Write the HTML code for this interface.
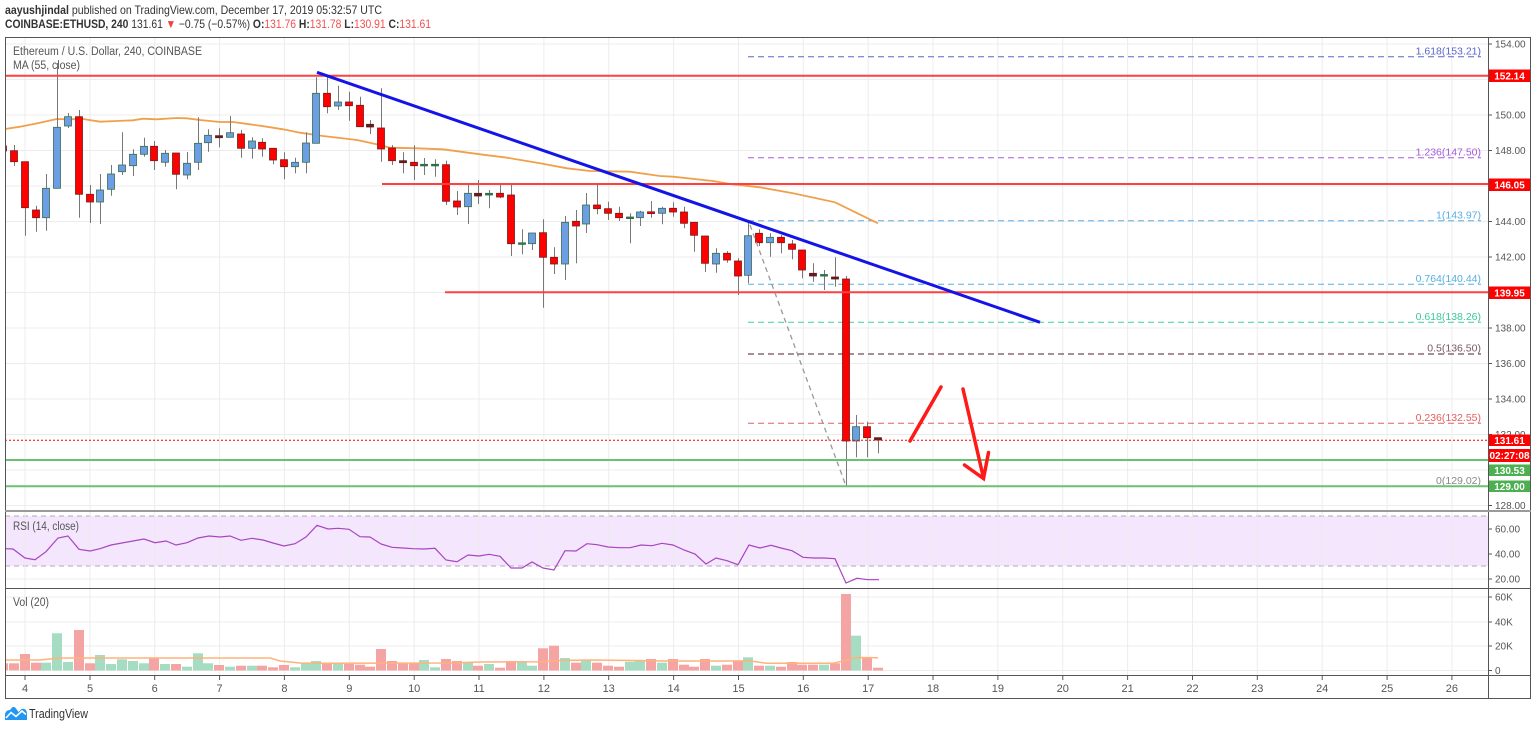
<!DOCTYPE html>
<html><head><meta charset="utf-8"><style>
html,body{margin:0;padding:0;background:#fff;}
svg{display:block;font-family:"Liberation Sans",sans-serif;}
.gr{stroke:#ececec;stroke-width:1;}
.ax{fill:#555;font-size:10px;}
.b{fill:#6b9ee4;stroke:#3d6b4d;stroke-width:.8}
.r{fill:#ff0000;stroke:#7b1818;stroke-width:.8}
.d{fill:#6b1b1b;stroke:#5a1a1a;stroke-width:.8}
.g{fill:#2d7a50;stroke:#2d6a45;stroke-width:.8}
.vr{fill:#f5a4a4}
.vg{fill:#a6dcc1}
</style></head><body>
<svg width="1536" height="729" viewBox="0 0 1536 729" xmlns="http://www.w3.org/2000/svg">
<defs>
<clipPath id="cm"><rect x="5" y="37" width="1483" height="474"/></clipPath>
<clipPath id="cr"><rect x="5" y="512" width="1483" height="76"/></clipPath>
<clipPath id="cv"><rect x="5" y="589" width="1483" height="86"/></clipPath>
</defs>
<rect width="1536" height="729" fill="#fff"/>

<!-- header -->
<text x="5" y="14" font-size="12" fill="#333" textLength="377" lengthAdjust="spacingAndGlyphs"><tspan font-weight="bold">aayushjindal</tspan> published on TradingView.com, December 17, 2019 05:32:57 UTC</text>
<text x="5" y="28" font-size="12" fill="#333" textLength="426" lengthAdjust="spacingAndGlyphs"><tspan font-weight="bold">COINBASE:ETHUSD, 240</tspan> 131.61 <tspan fill="#f04040">▼</tspan> −0.75 (−0.57%) <tspan font-weight="bold">O:</tspan><tspan fill="#f05050">131.76</tspan> <tspan font-weight="bold">H:</tspan><tspan fill="#f05050">131.78</tspan> <tspan font-weight="bold">L:</tspan><tspan fill="#f05050">130.91</tspan> <tspan font-weight="bold">C:</tspan><tspan fill="#f05050">131.61</tspan></text>

<!-- grid main -->
<g class="gr">
<line x1="5" y1="44" x2="1488" y2="44"/><line x1="5" y1="79.5" x2="1488" y2="79.5"/><line x1="5" y1="115" x2="1488" y2="115"/><line x1="5" y1="150.5" x2="1488" y2="150.5"/><line x1="5" y1="186" x2="1488" y2="186"/><line x1="5" y1="221.5" x2="1488" y2="221.5"/><line x1="5" y1="257" x2="1488" y2="257"/><line x1="5" y1="292.5" x2="1488" y2="292.5"/><line x1="5" y1="328" x2="1488" y2="328"/><line x1="5" y1="363.5" x2="1488" y2="363.5"/><line x1="5" y1="399" x2="1488" y2="399"/><line x1="5" y1="434.5" x2="1488" y2="434.5"/><line x1="5" y1="470" x2="1488" y2="470"/><line x1="5" y1="505.5" x2="1488" y2="505.5"/>
<line x1="5" y1="529" x2="1488" y2="529"/><line x1="5" y1="554" x2="1488" y2="554"/><line x1="5" y1="579" x2="1488" y2="579"/>
<line x1="5" y1="597" x2="1488" y2="597"/><line x1="5" y1="622" x2="1488" y2="622"/><line x1="5" y1="646" x2="1488" y2="646"/><line x1="5" y1="670.5" x2="1488" y2="670.5"/>
</g>
<!-- RSI band -->
<rect x="5" y="516" width="1483" height="50" fill="#f3e6fd"/>
<line x1="5" y1="516" x2="1488" y2="516" stroke="#b4a6bc" stroke-dasharray="5,4"/>
<line x1="5" y1="566" x2="1488" y2="566" stroke="#b4a6bc" stroke-dasharray="5,4"/>
<g class="gr">
<line x1="25" y1="37" x2="25" y2="676"/><line x1="90" y1="37" x2="90" y2="676"/><line x1="154.7" y1="37" x2="154.7" y2="676"/><line x1="219.6" y1="37" x2="219.6" y2="676"/><line x1="284.4" y1="37" x2="284.4" y2="676"/><line x1="349.3" y1="37" x2="349.3" y2="676"/><line x1="414.2" y1="37" x2="414.2" y2="676"/><line x1="479" y1="37" x2="479" y2="676"/><line x1="543.9" y1="37" x2="543.9" y2="676"/><line x1="608.7" y1="37" x2="608.7" y2="676"/><line x1="673.6" y1="37" x2="673.6" y2="676"/><line x1="738.5" y1="37" x2="738.5" y2="676"/><line x1="803.3" y1="37" x2="803.3" y2="676"/><line x1="868.2" y1="37" x2="868.2" y2="676"/><line x1="933" y1="37" x2="933" y2="676"/><line x1="997.9" y1="37" x2="997.9" y2="676"/><line x1="1062.8" y1="37" x2="1062.8" y2="676"/><line x1="1127.6" y1="37" x2="1127.6" y2="676"/><line x1="1192.5" y1="37" x2="1192.5" y2="676"/><line x1="1257.3" y1="37" x2="1257.3" y2="676"/><line x1="1322.2" y1="37" x2="1322.2" y2="676"/><line x1="1387.1" y1="37" x2="1387.1" y2="676"/><line x1="1451.9" y1="37" x2="1451.9" y2="676"/>
</g>

<g clip-path="url(#cm)">
<!-- fib lines -->
<g stroke-dasharray="6,4" stroke-width="1">
<line x1="748" y1="56.7" x2="1481" y2="56.7" stroke="#5a66cc"/>
<line x1="748" y1="157.7" x2="1481" y2="157.7" stroke="#a55cdc"/>
<line x1="748" y1="220.7" x2="1481" y2="220.7" stroke="#5aaee6"/>
<line x1="748" y1="284.3" x2="1481" y2="284.3" stroke="#55b0e0"/>
<line x1="748" y1="322.3" x2="1481" y2="322.3" stroke="#3dd0a0"/>
<line x1="748" y1="354" x2="1481" y2="354" stroke="#8a6878" stroke-width="1.5"/>
<line x1="748" y1="423.3" x2="1481" y2="423.3" stroke="#e06060"/>
<line x1="748" y1="486" x2="1481" y2="486" stroke="#888"/>
</g>
<g font-size="10.5" text-anchor="end">
<text x="1481" y="54.5" fill="#5a66cc">1.618(153.21)</text>
<text x="1481" y="155.5" fill="#a55cdc">1.236(147.50)</text>
<text x="1481" y="218.5" fill="#5aaee6">1(143.97)</text>
<text x="1481" y="282" fill="#55b0e0">0.764(140.44)</text>
<text x="1481" y="320" fill="#3dc89a">0.618(138.26)</text>
<text x="1481" y="351.5" fill="#7a5868">0.5(136.50)</text>
<text x="1481" y="421" fill="#e06060">0.236(132.55)</text>
<text x="1481" y="484" fill="#888">0(129.02)</text>
</g>
<!-- MA 55 -->
<polyline fill="none" stroke="#f0a04b" stroke-width="1.8" points="5,129 20,126.7 40,122.7 56.7,119 66.7,119.3 83,119 100,121.7 116.7,121 133,120.3 143,118.7 156.7,119.3 176.7,118 186.7,118.3 200,120 220,122 233,122 250,124.3 266.7,126.7 283,129.3 300,132.7 323,136 357,140 380,145 390,147.7 417,148.3 443,149.3 480,154.3 507,157.7 540,163.3 567,168.3 590,171 630,171.7 660,176 673,176.7 713,181 730,184 760,187.3 793,193.3 835,202.3 878,223.3"/>
<!-- wicks -->
<path fill="none" stroke="#777" stroke-width="1" d="M3.5 145V152M14.5 145V166M25.5 161.7V235.7M36.5 205.7V231.7M46.5 174V230.7M57.5 63V188.3M68.5 113V128M79.5 110V217.7M90.5 185V223M100.5 174V224M111.5 165V195.7M122.5 132.3V175M133.5 149.3V176M144.5 137.7V156.7M154.5 141V170M165.5 150V166.7M176.5 153V189.3M187.5 152V179.3M198.5 117.3V170M208.5 129.3V151.7M219.5 128.3V147.3M230.5 116V137.3M241.5 130V157.7M252.5 137.3V158.7M262.5 138.3V156.7M273.5 148.3V164.3M284.5 152.3V179.3M295.5 157.7V173.3M306.5 132.3V173.3M316.5 77.3V143.3M327.5 75.7V113.3M338.5 85.7V110M349.5 91.7V120.7M360.5 96.7V126.7M370.5 120V134M381.5 88.3V161.7M392.5 145V165M403.5 152.3V173.3M414.5 145.3V180M424.5 158V175M435.5 159.3V176.7M446.5 160.7V205M457.5 191V215M468.5 185V224M478.5 180V204M489.5 190V208.3M500.5 185V198.3M511.5 185V256M522.5 229.3V254.3M532.5 233V250M543.5 219.3V307.7M554.5 247.3V274M565.5 216V280M576.5 210V263.3M586.5 193V233M597.5 183.3V214.3M608.5 201.7V220M619.5 206.7V221M630.5 213.3V243.3M640.5 210.7V226M651.5 201V217.7M662.5 206.7V224.3M673.5 202.3V216.7M684.5 206.7V228.3M694.5 222.3V251.7M705.5 236V272M716.5 248.3V272.7M727.5 251V262.7M738.5 258.3V295M748.5 221.7V283.3M759.5 229.3V246M770.5 233.3V256.7M781.5 235V253.3M792.5 240V259.3M802.5 250V278.3M813.5 263.3V281.7M824.5 270V290M835.5 257.3V286.7M846.5 276V486M856.5 415V457.3M867.5 421.7V457.3M878.5 437.7V453.3"/>
<!-- bodies -->
<rect class="r" x="-0.5" y="146" width="7" height="5"/>
<rect class="r" x="10.5" y="150.7" width="7" height="11"/>
<rect class="r" x="21.5" y="161.7" width="7" height="46"/>
<rect class="r" x="32.5" y="210" width="7" height="7.7"/>
<rect class="b" x="42.5" y="188.3" width="7" height="29.4"/>
<rect class="b" x="53.5" y="127.3" width="7" height="61"/>
<rect class="b" x="64.5" y="116.7" width="7" height="9.3"/>
<rect class="r" x="75.5" y="116.7" width="7" height="77.6"/>
<rect class="r" x="86.5" y="194.3" width="7" height="7.7"/>
<rect class="b" x="96.5" y="190" width="7" height="12"/>
<rect class="b" x="107.5" y="174" width="7" height="15.3"/>
<rect class="b" x="118.5" y="165" width="7" height="6.7"/>
<rect class="b" x="129.5" y="154.3" width="7" height="11.4"/>
<rect class="b" x="140.5" y="146.3" width="7" height="8"/>
<rect class="r" x="150.5" y="146.3" width="7" height="14.4"/>
<rect class="b" x="161.5" y="153.3" width="7" height="9"/>
<rect class="r" x="172.5" y="153" width="7" height="21.3"/>
<rect class="b" x="183.5" y="163.3" width="7" height="11.7"/>
<rect class="b" x="194.5" y="143.3" width="7" height="19"/>
<rect class="b" x="204.5" y="135.3" width="7" height="7.4"/>
<rect class="d" x="215.5" y="135.7" width="7" height="2"/>
<rect class="b" x="226.5" y="132.7" width="7" height="4.6"/>
<rect class="r" x="237.5" y="134" width="7" height="14.3"/>
<rect class="b" x="248.5" y="141" width="7" height="7.3"/>
<rect class="r" x="258.5" y="142.3" width="7" height="6.7"/>
<rect class="r" x="269.5" y="148.3" width="7" height="11.7"/>
<rect class="r" x="280.5" y="159.7" width="7" height="7"/>
<rect class="b" x="291.5" y="162.3" width="7" height="4.4"/>
<rect class="b" x="302.5" y="143" width="7" height="19.3"/>
<rect class="b" x="312.5" y="93.3" width="7" height="50"/>
<rect class="r" x="323.5" y="93.3" width="7" height="13.4"/>
<rect class="b" x="334.5" y="102" width="7" height="4"/>
<rect class="r" x="345.5" y="102" width="7" height="3.7"/>
<rect class="r" x="356.5" y="105.3" width="7" height="21.4"/>
<rect class="d" x="366.5" y="124.3" width="7" height="2.7"/>
<rect class="r" x="377.5" y="128" width="7" height="21"/>
<rect class="r" x="388.5" y="148" width="7" height="12.7"/>
<rect class="d" x="399.5" y="160.7" width="7" height="2"/>
<rect class="r" x="410.5" y="162.3" width="7" height="3.4"/>
<rect class="g" x="420.5" y="164.3" width="7" height="1.6"/>
<rect class="g" x="431.5" y="164.3" width="7" height="1.6"/>
<rect class="r" x="442.5" y="164.7" width="7" height="36.6"/>
<rect class="r" x="453.5" y="201" width="7" height="6"/>
<rect class="b" x="464.5" y="193.3" width="7" height="13.4"/>
<rect class="d" x="474.5" y="193.3" width="7" height="2.7"/>
<rect class="g" x="485.5" y="193.3" width="7" height="1.7"/>
<rect class="r" x="496.5" y="193.3" width="7" height="3.7"/>
<rect class="r" x="507.5" y="195" width="7" height="48.7"/>
<rect class="g" x="518.5" y="242.8" width="7" height="1.6"/>
<rect class="b" x="528.5" y="233" width="7" height="10.7"/>
<rect class="r" x="539.5" y="232.7" width="7" height="24.6"/>
<rect class="r" x="550.5" y="257.3" width="7" height="6.7"/>
<rect class="b" x="561.5" y="222.3" width="7" height="41.7"/>
<rect class="r" x="572.5" y="221.3" width="7" height="4.7"/>
<rect class="b" x="582.5" y="205" width="7" height="19"/>
<rect class="r" x="593.5" y="205" width="7" height="3.7"/>
<rect class="r" x="604.5" y="208.7" width="7" height="4.6"/>
<rect class="r" x="615.5" y="213.3" width="7" height="4.4"/>
<rect class="g" x="626.5" y="217" width="7" height="1.6"/>
<rect class="b" x="636.5" y="212" width="7" height="5.7"/>
<rect class="r" x="647.5" y="211.8" width="7" height="1.8"/>
<rect class="b" x="658.5" y="208.3" width="7" height="5"/>
<rect class="r" x="669.5" y="208.3" width="7" height="3.7"/>
<rect class="r" x="680.5" y="212" width="7" height="11.3"/>
<rect class="r" x="690.5" y="222.3" width="7" height="13"/>
<rect class="r" x="701.5" y="236" width="7" height="27.3"/>
<rect class="b" x="712.5" y="253.3" width="7" height="10.7"/>
<rect class="r" x="723.5" y="253.3" width="7" height="6.7"/>
<rect class="r" x="734.5" y="261" width="7" height="15"/>
<rect class="b" x="744.5" y="235.7" width="7" height="39.6"/>
<rect class="r" x="755.5" y="233.3" width="7" height="9.4"/>
<rect class="b" x="766.5" y="237.3" width="7" height="5.4"/>
<rect class="r" x="777.5" y="237.3" width="7" height="5.4"/>
<rect class="r" x="788.5" y="244" width="7" height="5.3"/>
<rect class="r" x="798.5" y="250" width="7" height="20"/>
<rect class="d" x="809.5" y="273.3" width="7" height="2.7"/>
<rect class="g" x="820.5" y="274.5" width="7" height="1.6"/>
<rect class="d" x="831.5" y="277" width="7" height="2"/>
<rect class="r" x="842.5" y="279" width="7" height="162"/>
<rect class="b" x="852.5" y="426.7" width="7" height="14.3"/>
<rect class="r" x="863.5" y="426.7" width="7" height="11"/>
<rect class="d" x="874.5" y="437.7" width="7" height="2.3"/>

<!-- horizontal support/resistance -->
<line x1="5" y1="75.7" x2="1488" y2="75.7" stroke="#ff4040" stroke-width="2"/>
<line x1="382" y1="184" x2="1488" y2="184" stroke="#ff4040" stroke-width="2"/>
<line x1="445" y1="292.3" x2="1488" y2="292.3" stroke="#ff4040" stroke-width="2"/>
<line x1="5" y1="460" x2="1488" y2="460" stroke="#6cc070" stroke-width="2"/>
<line x1="5" y1="486.3" x2="1488" y2="486.3" stroke="#6cc070" stroke-width="2"/>
<line x1="5" y1="440.3" x2="1488" y2="440.3" stroke="#ff0000" stroke-width="1" stroke-dasharray="2,2"/>
<!-- trendline -->
<line x1="317" y1="72.3" x2="1040" y2="322.3" stroke="#1414e6" stroke-width="3"/>
<!-- grey dashed diagonal -->
<line x1="750" y1="225" x2="846" y2="486" stroke="#999" stroke-width="1.3" stroke-dasharray="5,4"/>
<!-- arrows -->
<g stroke="#ff1a1a" stroke-width="3.5" stroke-linecap="round" fill="none">
<line x1="910" y1="441" x2="941" y2="387"/>
<line x1="963" y1="389" x2="983.5" y2="478"/>
<polyline points="964.5,465 983.5,478.5 988.5,452.5"/>
</g>
</g>

<!-- RSI -->
<g clip-path="url(#cr)">
<polyline fill="none" stroke="#a845c0" stroke-width="1.2" points="5,548.7 13,549 25,558 35,559.7 46,551.7 58,538 68,536 79,549.3 90,551 100,548.7 111,545 122,543 133,541 144,539 155,542.7 166,541 176,545 187,542.7 198,538 209,536 220,537 230,536 241,540.3 252,538.3 263,540 273,543 284,546 295,543.7 306,537 317,525.3 328,529 338,528.3 349,529.3 360,536.7 370,537 381,544 392,547.3 403,548 413,548.7 424,549 435,548.3 446,560 457,561.7 468,555 479,556 489,554.3 500,556.3 511,568 522,568 532,562 543,568 554,570 565,550.7 576,551 587,543.7 597,544.7 608,547 619,547.7 630,547.7 641,545 652,545.7 662,543.3 673,545 684,550 695,554 706,564 716,558 727,560.7 738,564.7 749,545 760,548 771,545.3 781,548 792,550.7 803,557.3 814,558 824,558 835,558.7 846,583 857,578.3 868,579.7 879,579.7"/>
</g>

<!-- Volume -->
<g clip-path="url(#cv)">
<rect class="vr" x="-2" y="663.3" width="10" height="7"/>
<rect class="vr" x="9" y="663.3" width="10" height="7"/>
<rect class="vr" x="20" y="654" width="10" height="16.5"/>
<rect class="vr" x="31" y="662.7" width="10" height="7.8"/>
<rect class="vg" x="41" y="662.7" width="10" height="7.8"/>
<rect class="vg" x="52" y="633.3" width="10" height="37.2"/>
<rect class="vg" x="63" y="662" width="10" height="8.5"/>
<rect class="vr" x="74" y="630" width="10" height="40.5"/>
<rect class="vr" x="85" y="663.3" width="10" height="7.2"/>
<rect class="vg" x="95" y="655" width="10" height="15.5"/>
<rect class="vg" x="106" y="664" width="10" height="6.5"/>
<rect class="vg" x="117" y="659.3" width="10" height="11.2"/>
<rect class="vg" x="128" y="661" width="10" height="9.5"/>
<rect class="vg" x="139" y="663.3" width="10" height="7.2"/>
<rect class="vr" x="149" y="657.7" width="10" height="12.8"/>
<rect class="vg" x="160" y="664" width="10" height="6.5"/>
<rect class="vr" x="171" y="664" width="10" height="6.5"/>
<rect class="vg" x="182" y="666.7" width="10" height="3.8"/>
<rect class="vg" x="193" y="653.3" width="10" height="17.2"/>
<rect class="vg" x="203" y="663.3" width="10" height="7.2"/>
<rect class="vr" x="214" y="665" width="10" height="5.5"/>
<rect class="vg" x="225" y="666.7" width="10" height="3.8"/>
<rect class="vr" x="236" y="665.7" width="10" height="4.8"/>
<rect class="vg" x="247" y="665.7" width="10" height="4.8"/>
<rect class="vr" x="257" y="665.7" width="10" height="4.8"/>
<rect class="vr" x="268" y="667.3" width="10" height="3.2"/>
<rect class="vr" x="279" y="665" width="10" height="5.5"/>
<rect class="vg" x="290" y="667.3" width="10" height="3.2"/>
<rect class="vg" x="301" y="662.7" width="10" height="7.8"/>
<rect class="vg" x="311" y="661" width="10" height="9.5"/>
<rect class="vr" x="322" y="662.7" width="10" height="7.8"/>
<rect class="vg" x="333" y="662.7" width="10" height="7.8"/>
<rect class="vr" x="344" y="664" width="10" height="6.5"/>
<rect class="vr" x="355" y="664.7" width="10" height="5.8"/>
<rect class="vr" x="365" y="666.7" width="10" height="3.8"/>
<rect class="vr" x="376" y="649" width="10" height="21.5"/>
<rect class="vr" x="387" y="661" width="10" height="9.5"/>
<rect class="vr" x="398" y="662.7" width="10" height="7.8"/>
<rect class="vr" x="409" y="662.7" width="10" height="7.8"/>
<rect class="vg" x="419" y="660" width="10" height="10.5"/>
<rect class="vg" x="430" y="667.3" width="10" height="3.2"/>
<rect class="vr" x="441" y="659" width="10" height="11.5"/>
<rect class="vr" x="452" y="661" width="10" height="9.5"/>
<rect class="vg" x="463" y="662.3" width="10" height="8.2"/>
<rect class="vr" x="473" y="665.7" width="10" height="4.8"/>
<rect class="vg" x="484" y="664" width="10" height="6.5"/>
<rect class="vr" x="495" y="667.7" width="10" height="2.8"/>
<rect class="vr" x="506" y="661" width="10" height="9.5"/>
<rect class="vg" x="517" y="661" width="10" height="9.5"/>
<rect class="vg" x="527" y="665.7" width="10" height="4.8"/>
<rect class="vr" x="538" y="648.3" width="10" height="22.2"/>
<rect class="vr" x="549" y="645.7" width="10" height="24.8"/>
<rect class="vg" x="560" y="658" width="10" height="12.5"/>
<rect class="vr" x="571" y="662.7" width="10" height="7.8"/>
<rect class="vg" x="581" y="660.7" width="10" height="9.8"/>
<rect class="vr" x="592" y="662.7" width="10" height="7.8"/>
<rect class="vr" x="603" y="665.7" width="10" height="4.8"/>
<rect class="vr" x="614" y="666.7" width="10" height="3.8"/>
<rect class="vg" x="625" y="661.7" width="10" height="8.8"/>
<rect class="vg" x="635" y="660" width="10" height="10.5"/>
<rect class="vr" x="646" y="659" width="10" height="11.5"/>
<rect class="vg" x="657" y="662.7" width="10" height="7.8"/>
<rect class="vr" x="668" y="659" width="10" height="11.5"/>
<rect class="vr" x="679" y="664.7" width="10" height="5.8"/>
<rect class="vr" x="689" y="666.7" width="10" height="3.8"/>
<rect class="vr" x="700" y="659" width="10" height="11.5"/>
<rect class="vg" x="711" y="665.7" width="10" height="4.8"/>
<rect class="vr" x="722" y="664.7" width="10" height="5.8"/>
<rect class="vr" x="733" y="660.3" width="10" height="10.2"/>
<rect class="vg" x="743" y="657.3" width="10" height="13.2"/>
<rect class="vr" x="754" y="665.7" width="10" height="4.8"/>
<rect class="vg" x="765" y="665.7" width="10" height="4.8"/>
<rect class="vr" x="776" y="666.7" width="10" height="3.8"/>
<rect class="vr" x="787" y="662" width="10" height="8.5"/>
<rect class="vr" x="797" y="664.7" width="10" height="5.8"/>
<rect class="vr" x="808" y="664.7" width="10" height="5.8"/>
<rect class="vg" x="819" y="664.7" width="10" height="5.8"/>
<rect class="vr" x="830" y="663.3" width="10" height="7.2"/>
<rect class="vr" x="841" y="594" width="10" height="76.5"/>
<rect class="vg" x="851" y="635.7" width="10" height="34.8"/>
<rect class="vr" x="862" y="658" width="10" height="12.5"/>
<rect class="vr" x="873" y="667.7" width="10" height="2.8"/>
<polyline fill="none" stroke="#ffb27a" stroke-width="1.5" points="5,660 40,660 60,658 270,658 280,661 300,663 320,663.3 450,663 480,662 540,661.7 560,660.5 590,660 640,660.5 663,661 750,661 767,663.3 833,663.3 847,660 857,657.5 878,657.7"/>
</g>

<!-- panel labels -->
<text x="13" y="55" font-size="11.5" fill="#555" textLength="189" lengthAdjust="spacingAndGlyphs">Ethereum / U.S. Dollar, 240, COINBASE</text>
<text x="13" y="69" font-size="11.5" fill="#555" textLength="67" lengthAdjust="spacingAndGlyphs">MA (55, close)</text>
<text x="13" y="530" font-size="11.5" fill="#555" textLength="66" lengthAdjust="spacingAndGlyphs">RSI (14, close)</text>
<text x="13" y="606" font-size="11.5" fill="#555" textLength="36" lengthAdjust="spacingAndGlyphs">Vol (20)</text>

<!-- frames -->
<g fill="none" stroke="#555" stroke-width="1">
<rect x="5.5" y="37.5" width="1525" height="661"/>
<line x1="1488.5" y1="37" x2="1488.5" y2="698"/>
<line x1="5" y1="588.5" x2="1531" y2="588.5"/>
<line x1="5" y1="675.5" x2="1531" y2="675.5"/>
</g>
<line x1="5" y1="511" x2="1531" y2="511" stroke="#9a9a9a" stroke-width="2"/>

<!-- right axis ticks & labels -->
<g stroke="#555">
<line x1="1488" y1="44" x2="1492" y2="44"/><line x1="1488" y1="115" x2="1492" y2="115"/><line x1="1488" y1="150.5" x2="1492" y2="150.5"/><line x1="1488" y1="221.5" x2="1492" y2="221.5"/><line x1="1488" y1="257" x2="1492" y2="257"/><line x1="1488" y1="328" x2="1492" y2="328"/><line x1="1488" y1="363.5" x2="1492" y2="363.5"/><line x1="1488" y1="399" x2="1492" y2="399"/><line x1="1488" y1="434.5" x2="1492" y2="434.5"/><line x1="1488" y1="505.5" x2="1492" y2="505.5"/>
<line x1="1488" y1="529" x2="1492" y2="529"/><line x1="1488" y1="554" x2="1492" y2="554"/><line x1="1488" y1="579" x2="1492" y2="579"/>
<line x1="1488" y1="597" x2="1492" y2="597"/><line x1="1488" y1="622" x2="1492" y2="622"/><line x1="1488" y1="646" x2="1492" y2="646"/><line x1="1488" y1="670.5" x2="1492" y2="670.5"/>
</g>
<g class="ax">
<text x="1495" y="47.5">154.00</text><text x="1495" y="118.5">150.00</text><text x="1495" y="154">148.00</text><text x="1495" y="225">144.00</text><text x="1495" y="260.5">142.00</text><text x="1495" y="331.5">138.00</text><text x="1495" y="367">136.00</text><text x="1495" y="402.5">134.00</text><text x="1495" y="438">132.00</text><text x="1495" y="509">128.00</text>
<text x="1495" y="532.5">60.00</text><text x="1495" y="557.5">40.00</text><text x="1495" y="582.5">20.00</text>
<text x="1495" y="600.5">60K</text><text x="1495" y="625.5">40K</text><text x="1495" y="649.5">20K</text><text x="1495" y="674">0</text>
</g>
<!-- price boxes -->
<g font-size="10" font-weight="bold" fill="#fff" text-anchor="middle">
<rect x="1489" y="69.5" width="41" height="12.5" fill="#ff0000"/><text x="1509.5" y="79.5">152.14</text>
<rect x="1489" y="178.5" width="41" height="12.5" fill="#ff0000"/><text x="1509.5" y="188.5">146.05</text>
<rect x="1489" y="286.5" width="41" height="12.5" fill="#ff0000"/><text x="1509.5" y="296.5">139.95</text>
<rect x="1489" y="434.5" width="41" height="11.5" fill="#ff0000"/><text x="1509.5" y="444">131.61</text>
<rect x="1489" y="449" width="41" height="13" fill="#ff0000"/><text x="1509.5" y="459">02:27:08</text>
<rect x="1489" y="464.5" width="41" height="11.5" fill="#4caf50"/><text x="1509.5" y="474">130.53</text>
<rect x="1489" y="480.5" width="41" height="11.5" fill="#4caf50"/><text x="1509.5" y="490">129.00</text>
</g>

<!-- time axis -->
<g stroke="#555">
<line x1="25" y1="676" x2="25" y2="680"/><line x1="90" y1="676" x2="90" y2="680"/><line x1="154.7" y1="676" x2="154.7" y2="680"/><line x1="219.6" y1="676" x2="219.6" y2="680"/><line x1="284.4" y1="676" x2="284.4" y2="680"/><line x1="349.3" y1="676" x2="349.3" y2="680"/><line x1="414.2" y1="676" x2="414.2" y2="680"/><line x1="479" y1="676" x2="479" y2="680"/><line x1="543.9" y1="676" x2="543.9" y2="680"/><line x1="608.7" y1="676" x2="608.7" y2="680"/><line x1="673.6" y1="676" x2="673.6" y2="680"/><line x1="738.5" y1="676" x2="738.5" y2="680"/><line x1="803.3" y1="676" x2="803.3" y2="680"/><line x1="868.2" y1="676" x2="868.2" y2="680"/><line x1="933" y1="676" x2="933" y2="680"/><line x1="997.9" y1="676" x2="997.9" y2="680"/><line x1="1062.8" y1="676" x2="1062.8" y2="680"/><line x1="1127.6" y1="676" x2="1127.6" y2="680"/><line x1="1192.5" y1="676" x2="1192.5" y2="680"/><line x1="1257.3" y1="676" x2="1257.3" y2="680"/><line x1="1322.2" y1="676" x2="1322.2" y2="680"/><line x1="1387.1" y1="676" x2="1387.1" y2="680"/><line x1="1451.9" y1="676" x2="1451.9" y2="680"/>
</g>
<g class="ax" text-anchor="middle" style="font-size:11px">
<text x="25" y="692">4</text><text x="90" y="692">5</text><text x="154.7" y="692">6</text><text x="219.6" y="692">7</text><text x="284.4" y="692">8</text><text x="349.3" y="692">9</text><text x="414.2" y="692">10</text><text x="479" y="692">11</text><text x="543.9" y="692">12</text><text x="608.7" y="692">13</text><text x="673.6" y="692">14</text><text x="738.5" y="692">15</text><text x="803.3" y="692">16</text><text x="868.2" y="692">17</text><text x="933" y="692">18</text><text x="997.9" y="692">19</text><text x="1062.8" y="692">20</text><text x="1127.6" y="692">21</text><text x="1192.5" y="692">22</text><text x="1257.3" y="692">23</text><text x="1322.2" y="692">24</text><text x="1387.1" y="692">25</text><text x="1451.9" y="692">26</text>
</g>

<!-- TradingView logo -->
<path d="M5 720 L5 715 C5 712 7 710 10 710 L12 707.5 C13.5 706.5 15 707 16 708.5 L18.5 712 L21.5 709 C24.5 708 27 710 27 713.5 L27 720 Z" fill="#2196f3"/>
<polyline points="6,718 11,712.5 16,716.5 22,711 26,714.5" fill="none" stroke="#fff" stroke-width="1.6"/>
<text x="29" y="718" font-size="12.5" fill="#333" textLength="59" lengthAdjust="spacingAndGlyphs">TradingView</text>
</svg>
</body></html>
